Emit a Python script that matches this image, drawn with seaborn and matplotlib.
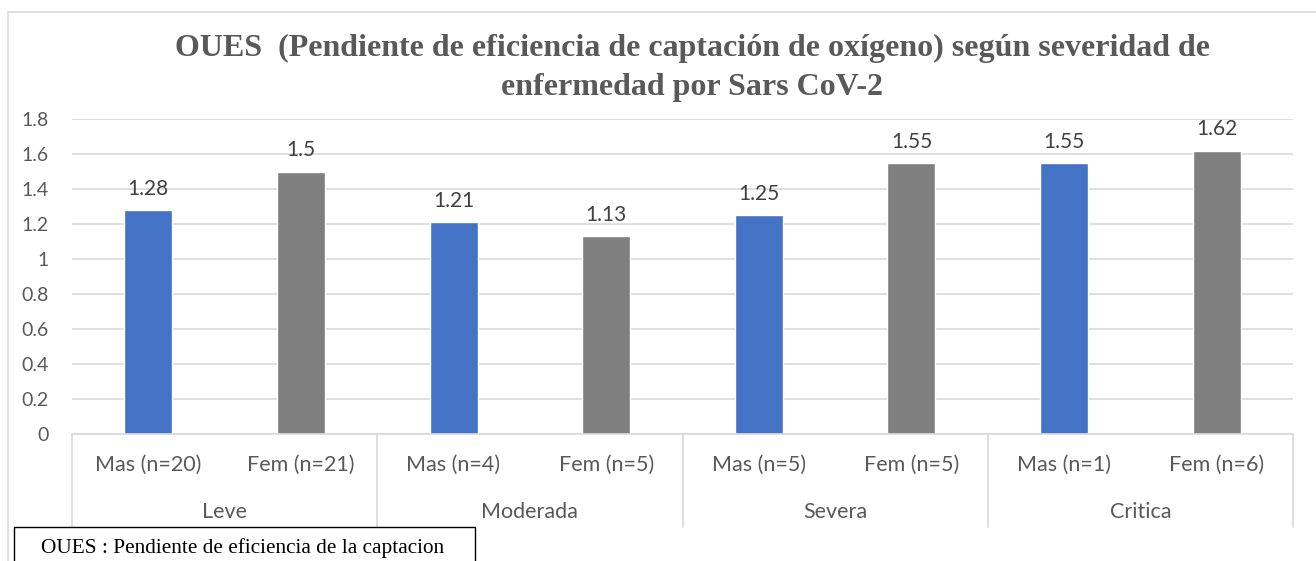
import pandas as pd
import numpy as np
import matplotlib
matplotlib.use("Agg")
import matplotlib.pyplot as plt
import seaborn as sns
from matplotlib.patches import Rectangle

# datos del grafico
grupos = ['Leve', 'Moderada', 'Severa', 'Critica']
etiquetas = ['Mas (n=20)', 'Fem (n=21)', 'Mas (n=4)', 'Fem (n=5)',
             'Mas (n=5)', 'Fem (n=5)', 'Mas (n=1)', 'Fem (n=6)']
sexo = ['Mas', 'Fem', 'Mas', 'Fem', 'Mas', 'Fem', 'Mas', 'Fem']
oues = [1.28, 1.5, 1.21, 1.13, 1.25, 1.55, 1.55, 1.62]
y_ticks = [0, 0.2, 0.4, 0.6, 0.8, 1, 1.2, 1.4, 1.6, 1.8]

df = pd.DataFrame({
    'clave': [f"{grupos[i // 2]}|{etiquetas[i]}" for i in range(len(etiquetas))],
    'etiqueta': etiquetas,
    'sexo': sexo,
    'oues': oues,
})

sns.set_style("white")
plt.rcParams['font.family'] = ['Lato', 'DejaVu Sans']
gris_txt = '#595959'
gris_linea = '#D9D9D9'
serif = ['Liberation Serif', 'DejaVu Serif']

fig = plt.figure(figsize=(13.16, 5.61), dpi=100)
ax = fig.add_axes([72 / 1316, 1 - 434 / 561, (1293 - 72) / 1316, (434 - 119) / 561])

sns.barplot(data=df, x='clave', y='oues', hue='sexo', order=list(df['clave']),
            palette={'Mas': '#4472C4', 'Fem': '#7F7F7F'}, dodge=False,
            width=0.315, ax=ax, legend=False, saturation=1)

ax.set_ylim(0, 1.8)
ax.set_xlim(-0.5, len(etiquetas) - 0.5)
ax.set_yticks(y_ticks)
ax.set_yticklabels([f"{t:g}" for t in y_ticks], fontsize=14, color=gris_txt)
ax.tick_params(axis='y', length=0, pad=16.5)
ax.yaxis.grid(True, color=gris_linea, linewidth=1.2)
ax.set_axisbelow(True)
for s in ['top', 'right', 'left']:
    ax.spines[s].set_visible(False)
ax.spines['bottom'].set_color(gris_linea)
ax.spines['bottom'].set_linewidth(1.2)
ax.set_xlabel('')
ax.set_ylabel('')

# etiquetas de categoria en dos niveles
ax.set_xticks(range(len(etiquetas)))
ax.set_xticklabels(etiquetas, fontsize=15.5, color=gris_txt)
ax.tick_params(axis='x', length=0, pad=15)
tr = ax.get_xaxis_transform()
for i, g in enumerate(grupos):
    ax.text(2 * i + 0.5, -0.248, g, transform=tr, ha='center', va='center',
            fontsize=15.5, color=gris_txt)
for k in range(len(grupos) + 1):
    ax.plot([2 * k - 0.5, 2 * k - 0.5], [0, -0.295], transform=tr,
            color=gris_linea, linewidth=1.2, clip_on=False)

# valores sobre las barras
for c in ax.containers:
    ax.bar_label(c, fmt='%g', padding=8, fontsize=15, color='#404040')

fig.text(0.526, 1 - 48 / 561, 'OUES  (Pendiente de eficiencia de captación de oxígeno) según severidad de',
         ha='center', va='center', fontsize=23, fontweight='bold', color=gris_txt,
         family=serif)
fig.text(0.526, 1 - 88 / 561, 'enfermedad por Sars CoV-2',
         ha='center', va='center', fontsize=23, fontweight='bold', color=gris_txt,
         family=serif)

# borde del area del grafico
fig.patches.append(Rectangle((8 / 1316, -0.2), 1.1, (561 - 12) / 561 + 0.2,
                             transform=fig.transFigure, fill=False,
                             edgecolor=gris_linea, linewidth=1.2))

# nota al pie
fig.patches.append(Rectangle((14 / 1316, -0.2), (475 - 14) / 1316, (561 - 527) / 561 + 0.2,
                             transform=fig.transFigure, facecolor='white',
                             edgecolor='black', linewidth=1.0, zorder=5))
fig.text(41 / 1316, 1 - 548 / 561, 'OUES : Pendiente de eficiencia de la captacion',
         ha='left', va='center', fontsize=15.3, color='black', zorder=6,
         family=serif)

fig.savefig('out.png', dpi=100)
